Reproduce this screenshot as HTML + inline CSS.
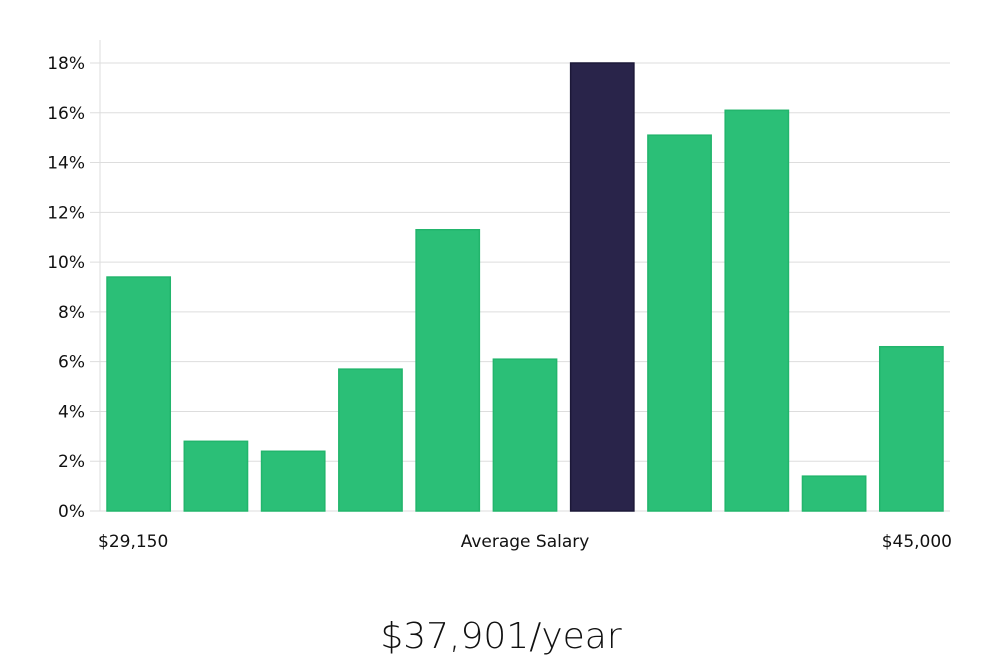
<!DOCTYPE html>
<html><head><meta charset="utf-8"><style>
body{margin:0;background:#fff;width:1000px;height:660px;overflow:hidden;font-family:"DejaVu Sans","Liberation Sans",sans-serif;}
</style></head><body>
<svg width="1000" height="660">
<g id="grid"></g><g id="bars"></g><g id="labels"></g>
<text x="501" y="648" text-anchor="middle" font-size="36" fill="#111" font-family="'DejaVu Sans','Liberation Sans',sans-serif" font-weight="300">$37,901/year</text>
</svg>
<script>
const values=[9.4,2.8,2.4,5.7,11.3,6.1,18.0,15.1,16.1,1.4,6.6];
const highlight=[false,false,false,false,false,false,true,false,false,false,false];
const yTicks=[0,2,4,6,8,10,12,14,16,18];
const xLabels=["$29,150","Average Salary","$45,000"];
const NS="http://www.w3.org/2000/svg";
const left=100,right=950,y0=511,yTop=63,maxV=18;
const y=v=>y0-(v/maxV)*(y0-yTop);
const step=(right-left)/values.length;
const x=i=>left+i*step;
function mk(t,a,p){const e=document.createElementNS(NS,t);for(const k in a)e.setAttribute(k,a[k]);p.appendChild(e);return e;}
const grid=document.getElementById('grid'),bars=document.getElementById('bars'),labels=document.getElementById('labels');
const ax=mk('line',{x1:left,x2:left,y1:40,y2:y0,stroke:'#ddd','stroke-width':1},grid);


yTicks.forEach(t=>{
 const l=mk('line',{x1:90,x2:right,y1:y(t),y2:y(t),stroke:'#ddd','stroke-width':1},grid);
 
 
 const tx=mk('text',{x:85,y:y(t)+6,'text-anchor':'end','font-size':17,fill:'#111'},labels);
 tx.textContent=t+'%';
 
 
});
values.forEach((v,i)=>{
 const r=mk('rect',{x:x(i)+7,y:y(v),width:step-14,height:y0-y(v),fill:highlight[i]?'#29244a':'#2bbf77',stroke:highlight[i]?'#1c1838':'#22b56c','stroke-width':1.5},bars);
 
 
});
const xl=[[98,'start'],[525,'middle'],[952,'end']];
xLabels.forEach((s,i)=>{
 const t=mk('text',{x:xl[i][0],y:547,'text-anchor':xl[i][1],'font-size':17,fill:'#111'},labels);
 t.textContent=s;
 
 
});
</script>
</body></html>
